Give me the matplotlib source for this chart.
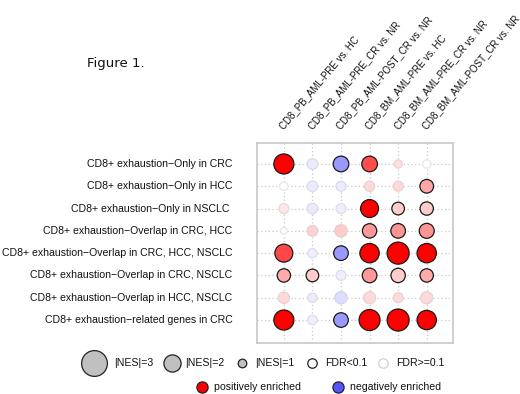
import matplotlib
matplotlib.use('Agg')
import matplotlib.pyplot as plt
import numpy as np

plt.rcParams['font.family'] = ['Liberation Sans', 'DejaVu Sans']

row_labels = [
    "CD8+ exhaustion\u2212Only in CRC",
    "CD8+ exhaustion\u2212Only in HCC",
    "CD8+ exhaustion\u2212Only in NSCLC ",
    "CD8+ exhaustion\u2212Overlap in CRC, HCC",
    "CD8+ exhaustion\u2212Overlap in CRC, HCC, NSCLC",
    "CD8+ exhaustion\u2212Overlap in CRC, NSCLC",
    "CD8+ exhaustion\u2212Overlap in HCC, NSCLC",
    "CD8+ exhaustion\u2212related genes in CRC",
]
col_labels = [
    "CD8_PB_AML-PRE vs. HC",
    "CD8_PB_AML-PRE_CR vs. NR",
    "CD8_PB_AML-POST_CR vs. NR",
    "CD8_BM_AML-PRE vs. HC",
    "CD8_BM_AML-PRE_CR vs. NR",
    "CD8_BM_AML-POST_CR vs. NR",
]
# signed NES per (gene set, comparison)
nes = [
    [2.33, -1.24, -1.82, 1.82, 0.97, 0.97],
    [0.97, -1.24, -1.16, 1.20, 1.16, 1.59],
    [1.16, -1.24, -1.16, 2.09, 1.47, 1.55],
    [0.78, 1.24, 1.43, 1.67, 1.70, 1.74],
    [2.09, -1.09, -1.70, 2.25, 2.56, 2.25],
    [1.55, 1.47, -1.16, 1.70, 1.67, 1.55],
    [1.32, -1.09, -1.43, 1.40, 1.16, 1.40],
    [2.33, -1.09, -1.70, 2.44, 2.56, 2.25],
]
# colour strength (0 = white, 1 = full colour)
shade = [
    [1.00, 0.12, 0.60, 0.70, 0.13, 0.00],
    [0.00, 0.12, 0.12, 0.15, 0.15, 0.35],
    [0.10, 0.12, 0.10, 1.00, 0.20, 0.20],
    [0.00, 0.18, 0.20, 0.40, 0.42, 0.42],
    [0.72, 0.10, 0.60, 1.00, 1.00, 1.00],
    [0.33, 0.20, 0.10, 0.40, 0.20, 0.33],
    [0.15, 0.12, 0.20, 0.15, 0.15, 0.15],
    [1.00, 0.10, 0.60, 1.00, 1.00, 1.00],
]
# FDR < 0.1
sig = [
    [1, 0, 1, 1, 0, 0],
    [0, 0, 0, 0, 0, 1],
    [0, 0, 0, 1, 1, 1],
    [0, 0, 0, 1, 1, 1],
    [1, 0, 1, 1, 1, 1],
    [1, 1, 0, 1, 1, 1],
    [0, 0, 0, 0, 0, 0],
    [1, 0, 1, 1, 1, 1],
]
legend_nes = [3, 2, 1]

POS = np.array([1.0, 0.0, 0.0])
NEG = np.array([85/255, 85/255, 1.0])
WHITE = np.array([1.0, 1.0, 1.0])
GRAY = np.array([0.80, 0.80, 0.80])


def size_of(v):
    r_px = 4.3 * abs(v)
    d_pt = 2 * r_px * 0.72
    return d_pt ** 2


fig = plt.figure(figsize=(5.2, 3.94), dpi=100)
W, H = 520, 394
ax = fig.add_axes([257 / W, 1 - 343 / H, (453 - 257) / W, (343 - 143) / H])

nr, nc = len(row_labels), len(col_labels)
for j in range(nc):
    ax.axvline(j + 1, color='#c8c8c8', lw=0.9, ls=(0, (1, 2)), zorder=0)
for i in range(nr):
    ax.axhline(i + 1, color='#c8c8c8', lw=0.9, ls=(0, (1, 2)), zorder=0)

xs, ys, ss, fcs, ecs = [], [], [], [], []
for i in range(nr):
    for j in range(nc):
        v = nes[i][j]
        base = POS if v > 0 else NEG
        fc = WHITE * (1 - shade[i][j]) + base * shade[i][j]
        if sig[i][j]:
            ec = (0.1, 0.1, 0.1)
        else:
            ec = tuple(0.5 * fc + 0.5 * GRAY)
        xs.append(j + 1)
        ys.append(i + 1)
        ss.append(size_of(v))
        fcs.append(tuple(fc))
        ecs.append(ec)
ax.scatter(xs, ys, s=ss, c=fcs, edgecolors=ecs, linewidths=0.9, zorder=3)

ax.set_xlim(0.06, 6.92)
ax.set_ylim(9.03, 0.06)
ax.set_xticks([])
ax.set_yticks([])
for sp in ax.spines.values():
    sp.set_color('#c8c8c8')
    sp.set_linewidth(1.2)

for i, lab in enumerate(row_labels):
    ax.text(-0.8, i + 1, lab, ha='right', va='center', fontsize=7.6,
            color='#111111')

for j, lab in enumerate(col_labels):
    ax.text(j + 1, 1.065, lab, transform=ax.get_xaxis_transform(),
            rotation=50, rotation_mode='anchor', ha='left', va='baseline',
            fontsize=7.0, color='#111111')

fig.text(87 / W, 1 - 63 / H, "Figure 1.", ha='left', va='center',
         fontsize=9.5, family='DejaVu Sans', color='#111111')

# legend in pixel coordinates
lg = fig.add_axes([0, 0, 1, 1])
lg.set_xlim(0, W)
lg.set_ylim(H, 0)
lg.axis('off')

y1, y2 = 363, 387
lx = [94, 172, 242]
tx = [114, 185, 255]
for k, v in enumerate(legend_nes):
    lg.scatter([lx[k]], [y1], s=size_of(v), c=['#c0c0c0'],
               edgecolors='#222222', linewidths=0.9)
    lg.text(tx[k], y1, "|NES|=%d" % v, ha='left', va='center', fontsize=7.6,
            color='#111111')
lg.scatter([312], [y1], s=size_of(1.1), c=['white'], edgecolors='#222222',
           linewidths=0.9)
lg.text(325, y1, "FDR<0.1", ha='left', va='center', fontsize=7.6, color='#111111')
lg.scatter([383], [y1], s=size_of(1.1), c=['white'], edgecolors='#d0d0d0',
           linewidths=0.9)
lg.text(396, y1, "FDR>=0.1", ha='left', va='center', fontsize=7.6, color='#111111')

lg.scatter([202], [y2], s=size_of(1.3), c=[tuple(POS)], edgecolors='#222222',
           linewidths=0.9)
lg.text(214, y2, "positively enriched", ha='left', va='center', fontsize=7.6,
        color='#111111')
lg.scatter([338], [y2], s=size_of(1.3), c=[tuple(NEG)], edgecolors='#222222',
           linewidths=0.9)
lg.text(350, y2, "negatively enriched", ha='left', va='center', fontsize=7.6,
        color='#111111')

fig.savefig('out.png', dpi=100)
